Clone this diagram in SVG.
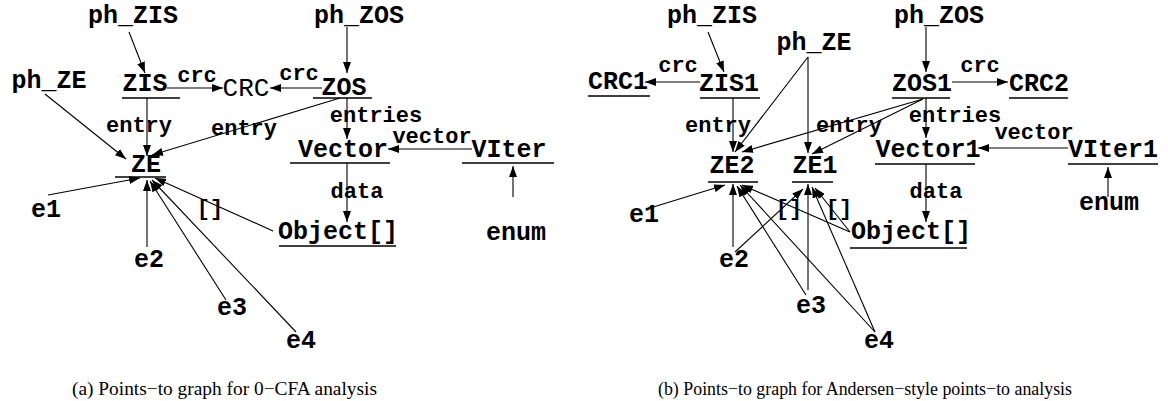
<svg xmlns="http://www.w3.org/2000/svg" width="1168" height="401" viewBox="0 0 1168 401">
  <style>
    .n { font-family: "Liberation Mono", "Courier New", monospace; font-weight: bold; font-size: 25px; fill: #000; text-anchor: middle; }
    .r { font-family: "Liberation Mono", "Courier New", monospace; font-weight: normal; font-size: 26px; fill: #000; text-anchor: middle; }
    .l { font-family: "Liberation Mono", "Courier New", monospace; font-weight: bold; font-size: 22px; fill: #000; text-anchor: middle; }
    .cap { font-family: "Liberation Serif", "Times New Roman", serif; font-size: 18.5px; fill: #000; }
    .u { stroke: #000; stroke-width: 1.5; }
    .e { stroke: #000; stroke-width: 1.1; fill: none; marker-end: url(#ah); }
  </style>
  <defs>
    <marker id="ah" markerUnits="userSpaceOnUse" markerWidth="12" markerHeight="8" refX="11" refY="4" orient="auto">
      <path d="M0,0 L11,4 L0,8 Z" fill="#000"/>
    </marker>
  </defs>
  <rect width="1168" height="401" fill="#fff"/>

  <!-- (a) 0-CFA graph: nodes -->
  <g id="a-ph_ZIS"><text class="n" x="133" y="23">ph_ZIS</text></g>
  <g id="a-ph_ZOS"><text class="n" x="359" y="23">ph_ZOS</text></g>
  <g id="a-ph_ZE"><text class="n" x="49" y="88">ph_ZE</text></g>
  <g id="a-ZIS"><text class="n" x="145" y="91">ZIS</text><line class="u" x1="122" y1="98" x2="180" y2="98"/></g>
  <g id="a-CRC"><text class="r" x="246" y="96">CRC</text></g>
  <g id="a-ZOS"><text class="n" x="344" y="95">ZOS</text><line class="u" x1="313" y1="98" x2="372" y2="98"/></g>
  <g id="a-ZE"><text class="n" x="146" y="172">ZE</text><line class="u" x1="115" y1="177" x2="166" y2="177"/></g>
  <g id="a-Vector"><text class="n" x="343" y="157">Vector</text><line class="u" x1="290" y1="163" x2="390" y2="163"/></g>
  <g id="a-VIter"><text class="n" x="509" y="157">VIter</text><line class="u" x1="462" y1="163" x2="554" y2="163"/></g>
  <g id="a-Object"><text class="n" x="338" y="239">Object[]</text><line class="u" x1="279" y1="246" x2="396" y2="246"/></g>
  <g id="a-enum"><text class="n" x="516" y="240">enum</text></g>
  <g id="a-e1"><text class="n" x="46" y="217">e1</text></g>
  <g id="a-e2"><text class="n" x="149" y="267">e2</text></g>
  <g id="a-e3"><text class="n" x="232" y="315">e3</text></g>
  <g id="a-e4"><text class="n" x="301" y="348">e4</text></g>

  <!-- (a) connectors -->
  <g id="a-edges">
    <line class="e" x1="129" y1="32" x2="145" y2="73"/>
    <line class="e" x1="347" y1="27" x2="347" y2="73"/>
    <line class="e" x1="167" y1="88" x2="223" y2="88"/>
    <line class="e" x1="322" y1="88" x2="270" y2="88"/>
    <line class="e" x1="147" y1="98" x2="147" y2="156"/>
    <line class="e" x1="340" y1="98" x2="152" y2="155"/>
    <line class="e" x1="45" y1="94" x2="126" y2="159"/>
    <line class="e" x1="347" y1="98" x2="347" y2="139"/>
    <line class="e" x1="472" y1="149" x2="388" y2="149"/>
    <line class="e" x1="513" y1="197" x2="513" y2="166"/>
    <line class="e" x1="347" y1="163" x2="347" y2="222"/>
    <line class="e" x1="273" y1="231" x2="155" y2="178"/>
    <line class="e" x1="48" y1="195" x2="140" y2="178"/>
    <line class="e" x1="147" y1="247" x2="147" y2="180"/>
    <line class="e" x1="226" y1="300" x2="150" y2="181"/>
    <line class="e" x1="296" y1="332" x2="152" y2="180"/>
    <text class="l" x="197" y="82">crc</text>
    <text class="l" x="299" y="80">crc</text>
    <text class="l" x="139" y="132">entry</text>
    <text class="l" x="244" y="135">entry</text>
    <text class="l" x="376" y="122">entries</text>
    <text class="l" x="432" y="143">vector</text>
    <text class="l" x="357" y="198">data</text>
    <text class="l" x="210" y="215">[]</text>
  </g>

  <!-- (b) Andersen-style graph: nodes -->
  <g id="b-ph_ZIS"><text class="n" x="712" y="23">ph_ZIS</text></g>
  <g id="b-ph_ZE"><text class="n" x="814" y="50">ph_ZE</text></g>
  <g id="b-ph_ZOS"><text class="n" x="939" y="23">ph_ZOS</text></g>
  <g id="b-CRC1"><text class="n" x="618" y="89">CRC1</text><line class="u" x1="588" y1="96" x2="650" y2="96"/></g>
  <g id="b-ZIS1"><text class="n" x="729" y="91">ZIS1</text><line class="u" x1="700" y1="98" x2="760" y2="98"/></g>
  <g id="b-ZOS1"><text class="n" x="922" y="91">ZOS1</text><line class="u" x1="892" y1="98" x2="950" y2="98"/></g>
  <g id="b-CRC2"><text class="n" x="1039" y="91">CRC2</text><line class="u" x1="1009" y1="98" x2="1068" y2="98"/></g>
  <g id="b-ZE2"><text class="n" x="732" y="173">ZE2</text><line class="u" x1="708" y1="182" x2="758" y2="182"/></g>
  <g id="b-ZE1"><text class="n" x="815" y="173">ZE1</text><line class="u" x1="792" y1="182" x2="833" y2="182"/></g>
  <g id="b-Vector1"><text class="n" x="928" y="157">Vector1</text><line class="u" x1="875" y1="164" x2="975" y2="164"/></g>
  <g id="b-VIter1"><text class="n" x="1113" y="157">VIter1</text><line class="u" x1="1068" y1="164" x2="1158" y2="164"/></g>
  <g id="b-enum"><text class="n" x="1109" y="210">enum</text></g>
  <g id="b-Object"><text class="n" x="911" y="239">Object[]</text><line class="u" x1="850" y1="248" x2="967" y2="248"/></g>
  <g id="b-e1"><text class="n" x="644" y="222">e1</text></g>
  <g id="b-e2"><text class="n" x="734" y="267">e2</text></g>
  <g id="b-e3"><text class="n" x="811" y="313">e3</text></g>
  <g id="b-e4"><text class="n" x="879" y="348">e4</text></g>

  <!-- (b) connectors -->
  <g id="b-edges">
    <line class="e" x1="708" y1="32" x2="724" y2="72"/>
    <line class="e" x1="700" y1="82" x2="645" y2="82"/>
    <line class="e" x1="733" y1="98" x2="733" y2="152"/>
    <line class="e" x1="808" y1="57" x2="735" y2="152"/>
    <line class="e" x1="808" y1="57" x2="808" y2="153"/>
    <line class="e" x1="926" y1="27" x2="926" y2="72"/>
    <line class="e" x1="952" y1="82" x2="1008" y2="82"/>
    <line class="e" x1="923" y1="99" x2="742" y2="152"/>
    <line class="e" x1="923" y1="99" x2="812" y2="154"/>
    <line class="e" x1="926" y1="98" x2="926" y2="138"/>
    <line class="e" x1="1068" y1="148" x2="978" y2="148"/>
    <line class="e" x1="1108" y1="197" x2="1108" y2="167"/>
    <line class="e" x1="926" y1="164" x2="926" y2="222"/>
    <line class="e" x1="850" y1="232" x2="742" y2="185"/>
    <line class="e" x1="850" y1="232" x2="815" y2="188"/>
    <line class="e" x1="650" y1="208" x2="725" y2="185"/>
    <line class="e" x1="733" y1="247" x2="733" y2="184"/>
    <line class="e" x1="735" y1="252" x2="803" y2="189"/>
    <line class="e" x1="808" y1="290" x2="808" y2="184"/>
    <line class="e" x1="806" y1="295" x2="737" y2="186"/>
    <line class="e" x1="875" y1="332" x2="740" y2="185"/>
    <line class="e" x1="875" y1="332" x2="812" y2="187"/>
    <text class="l" x="678" y="72">crc</text>
    <text class="l" x="718" y="132">entry</text>
    <text class="l" x="849" y="132">entry</text>
    <text class="l" x="980" y="72">crc</text>
    <text class="l" x="955" y="122">entries</text>
    <text class="l" x="1034" y="139">vector</text>
    <text class="l" x="936" y="198">data</text>
    <text class="l" x="789" y="215">[]</text>
    <text class="l" x="839" y="215">[]</text>
  </g>

  <!-- captions -->
  <text class="cap" x="72" y="395" textLength="305" lengthAdjust="spacingAndGlyphs">(a) Points−to graph for 0−CFA analysis</text>
  <text class="cap" x="658" y="395" textLength="414" lengthAdjust="spacingAndGlyphs">(b) Points−to graph for Andersen−style points−to analysis</text>
</svg>
